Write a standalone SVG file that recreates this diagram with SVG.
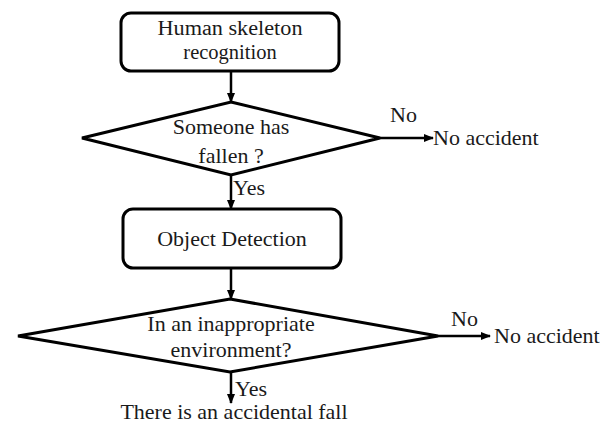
<svg xmlns="http://www.w3.org/2000/svg" width="614" height="425" viewBox="0 0 614 425">
<defs>
<marker id="ah" markerWidth="10" markerHeight="8" refX="9" refY="4" orient="auto" markerUnits="userSpaceOnUse">
<path d="M0,0 L10,4 L0,8 z" fill="#000"/>
</marker>
</defs>
<style>
text{font-family:"Liberation Serif","Times New Roman",serif;font-size:22px;fill:#1a1a1a}
.c{text-anchor:middle}
.t{font-size:20.5px}
.shape{fill:#fff;stroke:#000;stroke-width:3}
.conn{stroke:#000;stroke-width:2.5;fill:none;marker-end:url(#ah)}
</style>
<rect width="614" height="425" fill="#fff"/>
<g id="connectors">
<line class="conn" x1="231" y1="71" x2="231" y2="102"/>
<line class="conn" x1="380" y1="138" x2="433" y2="138"/>
<line class="conn" x1="231" y1="175" x2="231" y2="209"/>
<line class="conn" x1="231" y1="268" x2="231" y2="299"/>
<line class="conn" x1="438" y1="336" x2="490" y2="336"/>
<line class="conn" x1="231" y1="372" x2="231" y2="403"/>
<text x="390" y="122">No</text>
<text x="233" y="195">Yes</text>
<text x="451" y="326">No</text>
<text x="235" y="396">Yes</text>
</g>
<g id="n1">
<rect class="shape" x="121" y="13" width="218" height="58" rx="10"/>
<text class="c t" x="230" y="35" textLength="145" lengthAdjust="spacingAndGlyphs">Human skeleton</text>
<text class="c t" x="230" y="59">recognition</text>
</g>
<g id="n2">
<polygon class="shape" points="231,102 380,138 231,175 82,138"/>
<text class="c" x="231" y="134">Someone has</text>
<text class="c" x="231" y="163">fallen ?</text>
</g>
<g id="n3">
<text x="433" y="145">No accident</text>
</g>
<g id="n4">
<rect class="shape" x="123" y="209" width="218" height="59" rx="10"/>
<text class="c" x="232" y="246">Object Detection</text>
</g>
<g id="n5">
<polygon class="shape" points="230,299 438,336 230,372 18,336"/>
<text class="c" x="231" y="331">In an inappropriate</text>
<text class="c" x="231" y="357">environment?</text>
</g>
<g id="n6">
<text x="494" y="343">No accident</text>
</g>
<g id="n7">
<text class="c" x="234" y="419">There is an accidental fall</text>
</g>
</svg>
